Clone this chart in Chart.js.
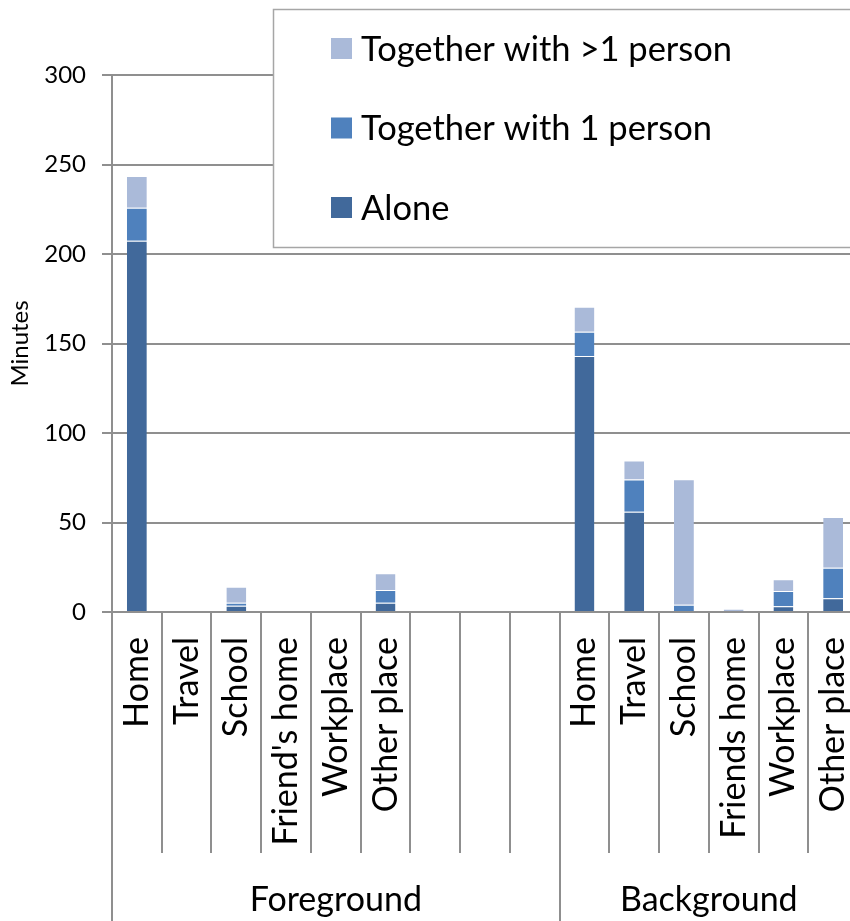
<!DOCTYPE html>
<html>
<head>
<meta charset="utf-8">
<script src="https://cdn.jsdelivr.net/npm/chart.js@4/dist/chart.umd.min.js"></script>
<style>
  html, body { margin: 0; padding: 0; background: #fff; overflow: hidden; width: 850px; height: 921px; }
  #wrap { position: absolute; left: 0; top: 0; width: 858px; height: 921px; }
</style>
</head>
<body>
<div id="wrap"><canvas id="chart"></canvas></div>
<script>
// Place categories: six in the foreground group, three spacer slots, six in the background group
const categories = ['Home', 'Travel', 'School', "Friend's home", 'Workplace', 'Other place', '', '', '',
                    'Home', 'Travel', 'School', 'Friends home', 'Workplace', 'Other place'];
const groups = [
  { name: 'Foreground', size: 9 },
  { name: 'Background', size: 6 }
];

// Minutes per place, split by company
const alone       = [207.4, 0, 3.5, 0, 0, 5.2, null, null, null, 143, 56, 0, 0, 3.2, 7.7];
const withOne     = [18.5, 0, 1.7, 0, 0, 7.1, null, null, null, 13.6, 18, 4.1, 0, 8.5, 17];
const withMany    = [17.7, 0, 8.9, 0, 0, 9.3, null, null, null, 14, 10.7, 70, 1.8, 6.6, 28.4];

const yTicks = { min: 0, max: 300, step: 50 };

const FONT = 'Lato, "Open Sans", sans-serif';
const GRID = '#8f8f8f';

// Separators, group names and the boxed legend
const decorations = {
  id: 'decorations',
  afterDraw(chart) {
    const ctx = chart.ctx;
    const area = chart.chartArea;
    const n = categories.length;
    const w = (area.right - area.left) / n;
    const H = chart.height;
    ctx.save();
    ctx.strokeStyle = GRID;
    ctx.lineWidth = 2;
    // boundaries between categories; group edges run to the bottom
    const groupEdges = new Set([0]);
    let acc = 0;
    groups.forEach(g => { acc += g.size; groupEdges.add(acc); });
    for (let i = 0; i <= n; i++) {
      const bx = Math.round(area.left + i * w);
      ctx.beginPath();
      ctx.moveTo(bx, area.bottom);
      ctx.lineTo(bx, groupEdges.has(i) ? H : area.bottom + 241);
      ctx.stroke();
    }
    // group names
    ctx.fillStyle = '#000';
    ctx.font = '34px ' + FONT;
    ctx.textAlign = 'center';
    ctx.textBaseline = 'alphabetic';
    let start = 0;
    groups.forEach(g => {
      const cx = area.left + (start + g.size / 2) * w;
      ctx.fillText(g.name, cx, 911);
      start += g.size;
    });

    // legend box
    const bx0 = 273, by0 = 9, bx1 = 880, by1 = 247;
    ctx.fillStyle = '#fff';
    ctx.fillRect(bx0, by0, bx1 - bx0, by1 - by0);
    ctx.strokeStyle = '#a6a6a6';
    ctx.lineWidth = 1.5;
    ctx.strokeRect(bx0 + 0.5, by0 + 0.5, bx1 - bx0, by1 - by0);
    const ds = chart.data.datasets.slice().reverse();
    ctx.textAlign = 'left';
    ctx.textBaseline = 'middle';
    ctx.font = '34.5px ' + FONT;
    ds.forEach((d, i) => {
      const cy = 48.5 + i * 79.5;
      ctx.fillStyle = d.backgroundColor;
      ctx.fillRect(331, cy - 10.5, 21, 21);
      ctx.fillStyle = '#000';
      ctx.fillText(d.label, 361, cy + 1);
    });
    ctx.restore();
  }
};

const segBorder = { top: 1, left: 0, right: 0, bottom: 0 };
const segColor = 'rgba(255,255,255,0.18)';

new Chart(document.getElementById('chart'), {
  type: 'bar',
  data: {
    labels: categories,
    datasets: [
      { label: 'Alone', data: alone, backgroundColor: '#41699b',
        borderColor: segColor, borderWidth: segBorder },
      { label: 'Together with 1 person', data: withOne, backgroundColor: '#4f81bd',
        borderColor: segColor, borderWidth: segBorder },
      { label: 'Together with >1 person', data: withMany, backgroundColor: '#aabad9',
        borderColor: segColor, borderWidth: segBorder }
    ]
  },
  options: {
    responsive: true,
    maintainAspectRatio: false,
    animation: false,
    layout: { padding: { top: 75, left: 0, right: 0, bottom: 0 } },
    datasets: { bar: { categoryPercentage: 1.0, barPercentage: 0.4 } },
    plugins: {
      legend: { display: false },
      title: { display: false },
      tooltip: { enabled: false }
    },
    scales: {
      x: {
        stacked: true,
        grid: { display: true, drawOnChartArea: false, drawTicks: false, color: GRID },
        border: { display: true, color: GRID, width: 2 },
        ticks: {
          autoSkip: false,
          minRotation: 90,
          maxRotation: 90,
          padding: 25,
          color: '#000',
          font: { family: FONT, size: 34 }
        },
        afterFit(scale) {
          scale.height = 309;
          scale.paddingLeft = 0;
          scale.paddingRight = 0;
        }
      },
      y: {
        stacked: true,
        min: yTicks.min,
        max: yTicks.max,
        ticks: {
          stepSize: yTicks.step,
          padding: 16,
          color: '#000',
          font: { family: FONT, size: 24 }
        },
        grid: { color: GRID, lineWidth: 2, tickLength: 10 },
        border: { display: true, color: GRID, width: 2 },
        title: {
          display: true,
          text: 'Minutes',
          color: '#000',
          font: { family: FONT, size: 24 },
          padding: { top: 6, bottom: 0 }
        },
        afterFit(scale) { scale.width = 112; }
      }
    }
  },
  plugins: [decorations]
});
</script>
</body>
</html>
